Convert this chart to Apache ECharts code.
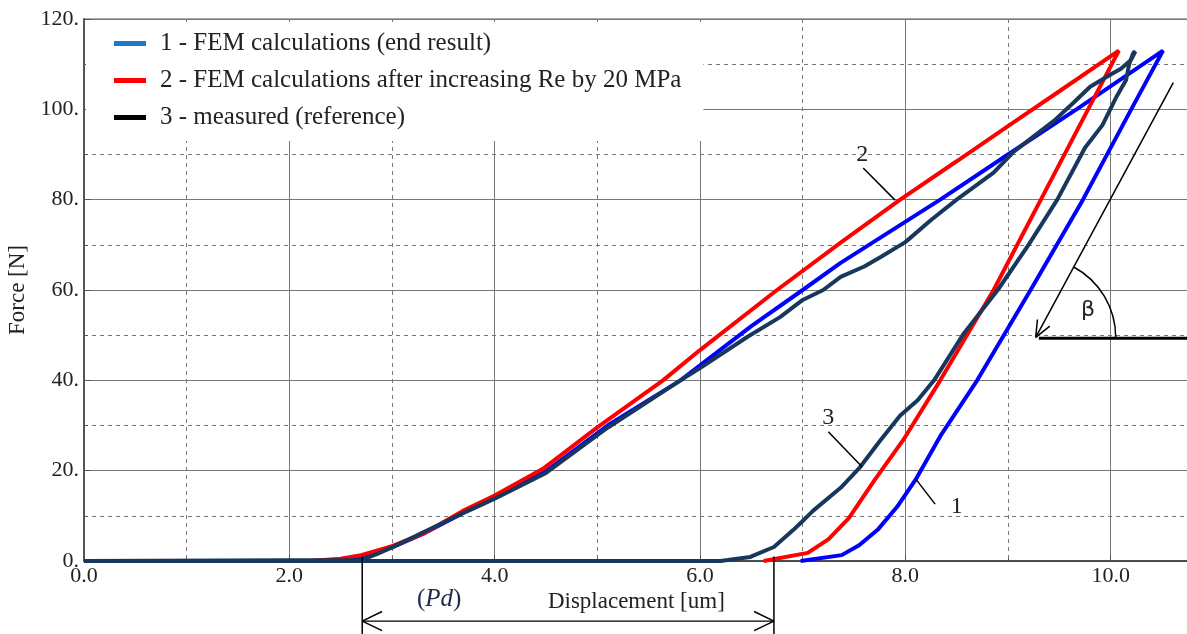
<!DOCTYPE html>
<html>
<head>
<meta charset="utf-8">
<script src="https://cdn.jsdelivr.net/npm/echarts@6/dist/echarts.min.js"></script>
<style>
  html, body { margin: 0; padding: 0; background: #fff; overflow: hidden; }
  #frame { width: 1187px; height: 634px; overflow: hidden; }
  /* plot runs past the right edge of the window, like the original */
  #chart { width: 1316px; height: 634px; }
</style>
</head>
<body>
<div id="frame"><div id="chart"></div></div>
<script>
// series names as in the legend
const seriesNames = [
  '1 - FEM calculations (end result)',
  '2 - FEM calculations after increasing Re by 20 MPa',
  '3 - measured (reference)'
];

// displacement [um], force [N] - loading then unloading
const femResult = [
  [0, 0], [2.3, 0], [2.6, 0.5], [2.8, 1.5], [3.0, 3.0], [3.3, 6], [3.73, 11.1], [4.0, 14],
  [4.51, 20], [5.1, 30], [5.81, 40], [6.0, 43.3], [6.5, 52], [7.0, 60], [7.37, 66],
  [8.34, 80], [9.0, 90], [9.7, 100.5], [10.51, 113],
  [10.2, 100], [9.73, 80], [9.22, 60], [8.7, 40], [8.35, 28], [8.1, 18], [7.92, 12],
  [7.73, 6.9], [7.55, 3.5], [7.38, 1.3], [6.98, 0]
];

const femIncreasedRe = [
  [0, 0], [2.2, 0], [2.5, 0.5], [2.7, 1.3], [3.0, 3.3], [3.3, 6], [3.69, 11.1], [4.0, 14.5],
  [4.47, 20.4], [5.0, 29.6], [5.64, 40], [6.0, 46.7], [6.75, 60], [7.37, 70.5], [7.95, 80],
  [8.5, 88.5], [9.0, 96.3], [9.5, 104], [10.08, 113],
  [9.78, 100], [9.32, 80], [8.86, 60], [8.34, 40], [7.98, 26.8], [7.7, 17.9], [7.45, 9.5],
  [7.25, 4.8], [7.05, 1.8], [6.62, 0]
];

const measured = [
  [0, 0], [2.7, 0.2], [2.85, 1.5], [3.0, 3.0], [3.3, 6.3], [3.73, 11], [4.0, 13.8], [4.5, 19.5],
  [5.1, 29.5], [5.81, 40], [6.0, 42.7], [6.46, 49.6], [6.78, 54], [7.0, 57.8], [7.2, 60],
  [7.37, 62.9], [7.6, 65.2], [7.76, 67.3], [8.0, 70.6], [8.25, 75.5], [8.5, 80], [8.86, 86],
  [9.05, 90.5], [9.25, 94], [9.45, 97.5], [9.64, 101.5], [9.8, 105], [10.0, 107.7],
  [10.1, 109], [10.2, 111], [10.24, 112.8],
  [10.22, 112.5], [10.18, 110], [10.15, 106.5], [10.05, 102.5], [9.92, 96.5], [9.75, 91.5],
  [9.48, 80], [9.2, 70], [8.9, 60], [8.57, 50.4], [8.28, 40], [8.12, 35.6], [7.95, 32.2],
  [7.75, 26.5], [7.56, 20.8], [7.37, 16.2], [7.1, 11.1], [6.98, 8.4], [6.91, 6.9],
  [6.72, 3.1], [6.49, 0.9], [6.27, 0.2], [6.2, 0], [0, 0]
];

const lineColors = ['#0000ff', '#ff0000', '#17385c'];
const legendColors = ['#1f78c8', '#ff0000', '#000000'];

const serif = 'Liberation Serif';

const chart = echarts.init(document.getElementById('chart'));

const option = {
  animation: false,
  backgroundColor: '#fff',
  grid: {
    left: 84, top: 19, bottom: 73, right: 0,
    outerBoundsMode: 'none',
    containLabel: false,
    show: true, borderColor: '#555', borderWidth: 1
  },
  legend: {
    orient: 'vertical',
    left: 86,
    top: 22,
    padding: [9, 22, 11, 28],
    backgroundColor: '#fff',
    icon: 'rect',
    itemWidth: 32,
    itemHeight: 5,
    itemGap: 12,
    selectedMode: false,
    textStyle: { fontFamily: serif, fontSize: 25, color: '#222', lineHeight: 24, padding: [0, 0, 0, 9] },
    data: seriesNames.map((n, i) => ({ name: n, itemStyle: { color: legendColors[i] } }))
  },
  xAxis: {
    type: 'value',
    min: 0,
    max: 12,
    interval: 2,
    axisLine: { show: true, lineStyle: { color: '#333', width: 1.5 } },
    axisTick: { show: true, inside: true, length: 6, lineStyle: { color: '#555' } },
    minorTick: { show: true, splitNumber: 2, length: 3, lineStyle: { color: '#555' } },
    axisLabel: {
      fontFamily: serif, fontSize: 22, color: '#222', margin: 4,
      formatter: v => v.toFixed(1)
    },
    splitLine: { show: true, lineStyle: { color: '#777', width: 1 } },
    minorSplitLine: { show: true, lineStyle: { color: '#777', width: 1, type: [4, 4] } }
  },
  yAxis: {
    type: 'value',
    min: 0,
    max: 120,
    interval: 20,
    name: 'Force [N]',
    nameLocation: 'middle',
    nameGap: 47,
    nameTextStyle: { fontFamily: serif, fontSize: 23, color: '#222' },
    axisLine: { show: true, lineStyle: { color: '#555', width: 2 } },
    axisTick: { show: true, inside: true, length: 7, lineStyle: { color: '#555' } },
    minorTick: { show: true, splitNumber: 2, length: 4, lineStyle: { color: '#555' } },
    axisLabel: {
      fontFamily: serif, fontSize: 22, color: '#222', margin: 5,
      formatter: v => v + '.'
    },
    splitLine: { show: true, lineStyle: { color: '#777', width: 1 } },
    minorSplitLine: { show: true, lineStyle: { color: '#777', width: 1, type: [4, 4] } }
  },
  series: [femResult, femIncreasedRe, measured].map((d, i) => ({
    name: seriesNames[i],
    type: 'line',
    data: d,
    showSymbol: false,
    symbol: 'none',
    z: 2 + i,
    lineStyle: { color: lineColors[i], width: 4 },
    itemStyle: { color: lineColors[i] }
  }))
};

chart.setOption(option);

// annotations, in data units
const callouts = [
  { text: '2', at: [7.58, 89.9], from: [7.59, 87.0], to: [7.9, 79.9] },
  { text: '3', at: [7.25, 31.7], from: [7.25, 28.6], to: [7.58, 20.8] },
  { text: '1', at: [8.5, 12.0], from: [8.11, 17.9], to: [8.29, 12.6] }
];
const betaArrow = { from: [10.61, 105.9], tip: [9.27, 49.5], baseEnd: [11, 49.3], label: [9.78, 55.6] };
const pdMarks = { left: 2.71, right: 6.72, top: 1.0, arrowY: -13.3, bottom: -17 };
const pdLabel = [3.46, -8.6];
const xName = [5.38, -9.1];

const px = p => chart.convertToPixel({ gridIndex: 0 }, p);
const line = (a, b, w) => ({
  type: 'line', z: 10, silent: true,
  shape: { x1: a[0], y1: a[1], x2: b[0], y2: b[1] },
  style: { stroke: '#000', lineWidth: w || 1.5 }
});
const arrowHead = (tip, angle, len, spread) => [
  line(tip, [tip[0] + len * Math.cos(angle + spread), tip[1] + len * Math.sin(angle + spread)], 1.5),
  line(tip, [tip[0] + len * Math.cos(angle - spread), tip[1] + len * Math.sin(angle - spread)], 1.5)
];

const g = [];
callouts.forEach(c => {
  const t = px(c.at);
  g.push({
    type: 'text', z: 10, silent: true, x: t[0], y: t[1],
    style: { text: c.text, font: '24px "Liberation Serif"', fill: '#222', align: 'center', verticalAlign: 'middle' }
  });
  g.push(line(px(c.from), px(c.to), 1.5));
});

// beta angle
const bFrom = px(betaArrow.from);
const bTip = px(betaArrow.tip);
const bBase = px([betaArrow.tip[0] + 0.03, betaArrow.baseEnd[1]]);
const bEnd = px(betaArrow.baseEnd);
g.push(line(bFrom, bTip, 1.5));
const back = Math.atan2(bFrom[1] - bTip[1], bFrom[0] - bTip[0]);
g.push(...arrowHead(bTip, back, 18, 0.4));
g.push(line(bBase, bEnd, 3));
g.push({
  type: 'arc', z: 10, silent: true,
  shape: { cx: bTip[0], cy: bTip[1], r: 80, startAngle: back, endAngle: 0, clockwise: true },
  style: { stroke: '#000', lineWidth: 1.5, fill: null }
});
const bl = px(betaArrow.label);
g.push({
  type: 'text', z: 10, silent: true, x: bl[0], y: bl[1],
  style: { text: 'β', font: '22px "DejaVu Sans"', fill: '#222', align: 'center', verticalAlign: 'middle' }
});

// (Pd) dimension
const l1 = px([pdMarks.left, pdMarks.top]);
const l2 = px([pdMarks.left, pdMarks.bottom]);
const r1 = px([pdMarks.right, pdMarks.top]);
const r2 = px([pdMarks.right, pdMarks.bottom]);
const aL = px([pdMarks.left, pdMarks.arrowY]);
const aR = px([pdMarks.right, pdMarks.arrowY]);
g.push(line(l1, l2, 1.5), line(r1, r2, 1.5), line(aL, aR, 1.2));
g.push(...arrowHead(aL, 0, 22, 0.45));
g.push(...arrowHead(aR, Math.PI, 22, 0.45));
const pl = px(pdLabel);
g.push({
  type: 'text', z: 10, silent: true, x: pl[0], y: pl[1],
  style: {
    text: '{n|(}{i|Pd}{n|)}', align: 'center', verticalAlign: 'middle',
    rich: {
      n: { fontFamily: serif, fontSize: 25, fill: '#1b2a4a' },
      i: { fontFamily: serif, fontSize: 25, fontStyle: 'italic', fill: '#1b2a4a' }
    }
  }
});
const xn = px(xName);
g.push({
  type: 'text', z: 10, silent: true, x: xn[0], y: xn[1],
  style: { text: 'Displacement [um]', font: '23px "Liberation Serif"', fill: '#222', align: 'center', verticalAlign: 'middle' }
});

chart.setOption({ graphic: g });
</script>
</body>
</html>
